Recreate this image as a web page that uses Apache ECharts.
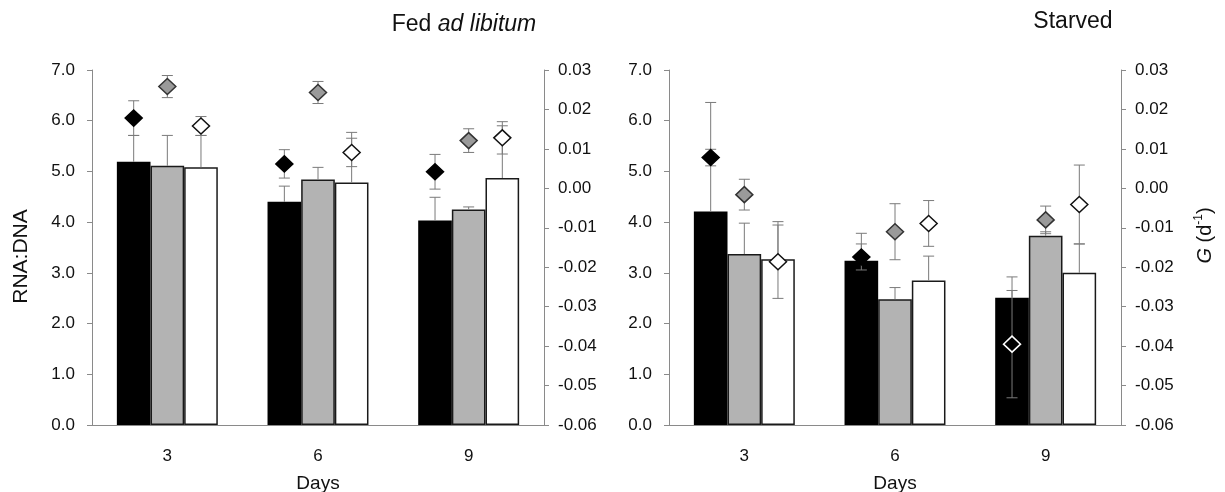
<!DOCTYPE html>
<html>
<head>
<meta charset="utf-8">
<script src="https://cdn.jsdelivr.net/npm/echarts@6/dist/echarts.min.js"></script>
<style>
  html, body { margin: 0; padding: 0; background: #fff; }
  #chart { width: 1225px; height: 492px; }
</style>
</head>
<body>
<div id="chart"></div>
<script>
// Sampling days
const days = ['3', '6', '9'];

// RNA:DNA ratio (bars) with upper SD, fed ad libitum
const fedRnaBlack = [5.19, 4.40, 4.03];
const fedRnaBlackSd = [0.52, 0.31, 0.46];
const fedRnaGray = [5.11, 4.84, 4.25];
const fedRnaGraySd = [0.60, 0.24, 0.05];
const fedRnaWhite = [5.08, 4.78, 4.87];
const fedRnaWhiteSd = [0.63, 0.99, 1.03];

// Growth rate G (d^-1) (diamonds) with SD, fed ad libitum
const fedGBlack = [0.0178, 0.0062, 0.0042];
const fedGBlackSd = [0.0044, 0.0036, 0.0044];
const fedGGray = [0.0258, 0.0243, 0.0121];
const fedGGraySd = [0.0028, 0.0028, 0.0030];
const fedGWhite = [0.0158, 0.0091, 0.0128];
const fedGWhiteSd = [0.0024, 0.0036, 0.0041];

// RNA:DNA ratio (bars) with upper SD, starved
const stRnaBlack = [4.21, 3.24, 2.51];
const stRnaBlackSd = [2.15, 0.54, 0.41];
const stRnaGray = [3.37, 2.48, 3.73];
const stRnaGraySd = [0.61, 0.23, 0.08];
const stRnaWhite = [3.27, 2.85, 3.00];
const stRnaWhiteSd = [0.74, 0.48, 0.57];

// Growth rate G (d^-1) (diamonds) with SD, starved
const stGBlack = [0.0078, -0.0174, -0.0395];
const stGBlackSd = [0.0021, 0.0033, 0.0136];
const stGGray = [-0.0016, -0.0110, -0.0080];
const stGGraySd = [0.0039, 0.0071, 0.0035];
const stGWhite = [-0.0186, -0.0089, -0.0041];
const stGWhiteSd = [0.0093, 0.0058, 0.0100];

// Axis tick settings
const rnaMin = 0, rnaMax = 7, rnaStep = 1;
const gMin = -0.06, gMax = 0.03, gStep = 0.01;

const FONT = "'Liberation Sans', Arial, sans-serif";
const TEXT = '#111';
const AXIS = '#8a8a8a';
const ERR = '#7a7a7a';
const TICK_FS = 17;
const CAT_GAP = 0.33;           // fraction of a category band left empty
const BAR_FILL = ['#000000', '#b3b3b3', '#ffffff'];
const DIA_FILL = ['#000000', '#9a9a9a', '#ffffff'];
const DIA_EDGE = ['#000000', '#333333', '#111111'];

// Offset of bar slot (0..2) from category centre, in pixels
function slotOffset(api, slot) {
  const band = api.size([1, 0])[0];
  const bw = band * (1 - CAT_GAP) / 3;
  return (slot - 1) * bw;
}

// One-sided (upward) SD whiskers on the bars
function renderBarErr(params, api) {
  const i = api.value(0), slot = api.value(1), m = api.value(2), sd = api.value(3);
  const base = api.coord([i, m]);
  const top = api.coord([i, m + sd]);
  const x = base[0] + slotOffset(api, slot);
  const cap = 5.5;
  return {
    type: 'group',
    children: [
      { type: 'line', shape: { x1: x, y1: base[1], x2: x, y2: top[1] }, style: { stroke: ERR, lineWidth: 1 } },
      { type: 'line', shape: { x1: x - cap, y1: top[1], x2: x + cap, y2: top[1] }, style: { stroke: ERR, lineWidth: 1 } }
    ]
  };
}

// Diamonds with two-sided SD whiskers; edgeOverride maps "slot-index" to an outline colour
function makeDiamondRenderer(edgeOverride) {
  return function (params, api) {
    const i = api.value(0), slot = api.value(1), g = api.value(2), sd = api.value(3);
    const c = api.coord([i, g]);
    const x = c[0] + slotOffset(api, slot);
    const y = c[1];
    const yHi = api.coord([i, g + sd])[1];
    const yLo = api.coord([i, g - sd])[1];
    const cap = 5.5, hw = 8.5, hh = 8;
    const edge = edgeOverride[slot + '-' + i] || DIA_EDGE[slot];
    return {
      type: 'group',
      children: [
        { type: 'line', shape: { x1: x, y1: yHi, x2: x, y2: yLo }, style: { stroke: ERR, lineWidth: 1 } },
        { type: 'line', shape: { x1: x - cap, y1: yHi, x2: x + cap, y2: yHi }, style: { stroke: ERR, lineWidth: 1 } },
        { type: 'line', shape: { x1: x - cap, y1: yLo, x2: x + cap, y2: yLo }, style: { stroke: ERR, lineWidth: 1 } },
        {
          type: 'polygon',
          shape: { points: [[x, y - hh], [x + hw, y], [x, y + hh], [x - hw, y]] },
          style: { fill: DIA_FILL[slot], stroke: edge, lineWidth: 1.5 }
        }
      ]
    };
  };
}

function slotRows(arrs) {
  const rows = [];
  arrs.forEach(function (pair, slot) {
    pair[0].forEach(function (v, i) { rows.push([i, slot, v, pair[1][i]]); });
  });
  return rows;
}

function barSeries(values, slot, gi) {
  return {
    type: 'bar',
    xAxisIndex: gi, yAxisIndex: gi * 2,
    data: values,
    barGap: '0%',
    barCategoryGap: (CAT_GAP * 100) + '%',
    itemStyle: {
      color: BAR_FILL[slot],
      borderColor: '#1a1a1a',
      borderWidth: slot === 0 ? 0 : 1.5
    },
    z: 2,
    silent: true
  };
}

function gLabel(v) {
  if (Math.abs(v) < 1e-9) return '0.00';
  return v.toFixed(2);
}

function xAxisFor(gi) {
  return {
    gridIndex: gi,
    type: 'category',
    data: days,
    axisLine: { lineStyle: { color: AXIS, width: 1 } },
    axisTick: { length: 6, lineStyle: { color: AXIS } },
    axisLabel: { color: TEXT, fontSize: TICK_FS, fontFamily: FONT, margin: 23 },
    name: 'Days',
    nameLocation: 'middle',
    nameGap: 49,
    nameTextStyle: { color: TEXT, fontSize: 19, fontFamily: FONT }
  };
}

function rnaAxis(gi, withName) {
  const ax = {
    gridIndex: gi,
    type: 'value',
    position: 'left',
    min: rnaMin, max: rnaMax, interval: rnaStep,
    axisLine: { show: true, lineStyle: { color: AXIS } },
    axisTick: { show: true, length: 5, lineStyle: { color: AXIS } },
    axisLabel: { color: TEXT, fontSize: TICK_FS, fontFamily: FONT, margin: 17, formatter: function (v) { return v.toFixed(1); } },
    splitLine: { show: false }
  };
  if (withName) {
    ax.name = 'RNA:DNA';
    ax.nameLocation = 'middle';
    ax.nameRotate = 90;
    ax.nameGap = 60;
    ax.nameTextStyle = { color: TEXT, fontSize: 21, fontFamily: FONT, padding: [0, 18, 0, 0] };
  }
  return ax;
}

function gAxis(gi, withName) {
  const ax = {
    gridIndex: gi,
    type: 'value',
    position: 'right',
    min: gMin, max: gMax, interval: gStep,
    axisLine: { show: true, lineStyle: { color: AXIS } },
    axisTick: { show: true, length: 5, lineStyle: { color: AXIS } },
    axisLabel: { color: TEXT, fontSize: TICK_FS, fontFamily: FONT, margin: 14, formatter: gLabel },
    splitLine: { show: false }
  };
  if (withName) {
    ax.name = '{g|G} (d{s|-1})';
    ax.nameLocation = 'middle';
    ax.nameRotate = 90;
    ax.nameGap = 72;
    ax.nameTextStyle = {
      color: TEXT, fontSize: 20, fontFamily: FONT, lineHeight: 24, padding: [0, 0, 0, 24],
      rich: {
        g: { fontSize: 20, fontStyle: 'italic', fontFamily: FONT, color: TEXT, lineHeight: 24 },
        s: { fontSize: 12, fontFamily: FONT, color: TEXT, verticalAlign: 'top', lineHeight: 24, padding: [0, 0, 10, 0] }
      }
    };
  }
  return ax;
}

const chart = echarts.init(document.getElementById('chart'), null, { renderer: 'canvas' });

const option = {
  backgroundColor: '#fff',
  animation: false,
  grid: [
    { left: 92, right: 681, top: 70, bottom: 67, containLabel: false, outerBoundsMode: 'none' },
    { left: 669, right: 104, top: 70, bottom: 67, containLabel: false, outerBoundsMode: 'none' }
  ],
  xAxis: [xAxisFor(0), xAxisFor(1)],
  yAxis: [rnaAxis(0, true), gAxis(0, false), rnaAxis(1, false), gAxis(1, true)],
  graphic: [
    {
      type: 'text', x: 464, y: 25,
      style: {
        text: '{n|Fed }{i|ad libitum}',
        align: 'center', verticalAlign: 'middle',
        rich: {
          n: { fontSize: 23, fontFamily: FONT, fill: TEXT },
          i: { fontSize: 23, fontFamily: FONT, fontStyle: 'italic', fill: TEXT }
        }
      }
    },
    {
      type: 'text', x: 1073, y: 22,
      style: { text: 'Starved', align: 'center', verticalAlign: 'middle', fontSize: 23, fontFamily: FONT, fill: TEXT }
    }
  ],
  series: [
    barSeries(fedRnaBlack, 0, 0),
    barSeries(fedRnaGray, 1, 0),
    barSeries(fedRnaWhite, 2, 0),
    barSeries(stRnaBlack, 0, 1),
    barSeries(stRnaGray, 1, 1),
    barSeries(stRnaWhite, 2, 1),
    {
      type: 'custom', xAxisIndex: 0, yAxisIndex: 0, z: 3, silent: true,
      renderItem: renderBarErr, encode: { x: 0, y: 2 },
      data: slotRows([[fedRnaBlack, fedRnaBlackSd], [fedRnaGray, fedRnaGraySd], [fedRnaWhite, fedRnaWhiteSd]])
    },
    {
      type: 'custom', xAxisIndex: 1, yAxisIndex: 2, z: 3, silent: true,
      renderItem: renderBarErr, encode: { x: 0, y: 2 },
      data: slotRows([[stRnaBlack, stRnaBlackSd], [stRnaGray, stRnaGraySd], [stRnaWhite, stRnaWhiteSd]])
    },
    {
      type: 'custom', xAxisIndex: 0, yAxisIndex: 1, z: 4, silent: true,
      renderItem: makeDiamondRenderer({}), encode: { x: 0, y: 2 },
      data: slotRows([[fedGBlack, fedGBlackSd], [fedGGray, fedGGraySd], [fedGWhite, fedGWhiteSd]])
    },
    {
      type: 'custom', xAxisIndex: 1, yAxisIndex: 3, z: 4, silent: true,
      // black marker sitting inside the black bar on day 9 gets a white outline
      renderItem: makeDiamondRenderer({ '0-2': '#ffffff' }), encode: { x: 0, y: 2 },
      data: slotRows([[stGBlack, stGBlackSd], [stGGray, stGGraySd], [stGWhite, stGWhiteSd]])
    }
  ]
};

chart.setOption(option);
</script>
</body>
</html>
